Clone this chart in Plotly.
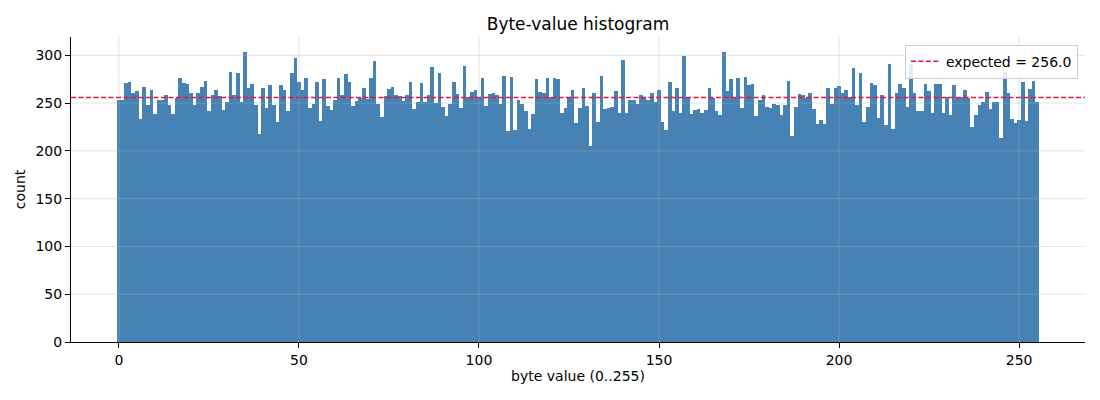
import numpy as np
import plotly.graph_objects as go

byte_values = list(range(256))

counts = [
    253, 253, 271, 272, 261, 263, 233, 267, 248, 264, 239, 253, 253, 258, 248, 239,
    255, 276, 271, 270, 261, 248, 261, 267, 273, 242, 258, 264, 257, 243, 251, 283,
    259, 282, 251, 304, 266, 270, 248, 218, 266, 245, 269, 248, 230, 269, 264, 242,
    282, 297, 272, 264, 276, 245, 249, 272, 231, 275, 247, 243, 253, 276, 258, 281,
    272, 247, 252, 255, 266, 254, 276, 294, 249, 236, 257, 265, 267, 259, 257, 252,
    259, 272, 244, 251, 271, 251, 258, 288, 250, 282, 246, 237, 249, 272, 260, 245,
    289, 256, 262, 264, 255, 276, 247, 260, 261, 259, 249, 278, 221, 277, 222, 253,
    249, 242, 223, 239, 275, 262, 261, 276, 256, 276, 275, 240, 245, 255, 264, 229,
    245, 266, 247, 205, 261, 230, 278, 244, 245, 246, 263, 240, 295, 240, 253, 253,
    249, 259, 256, 253, 261, 251, 264, 230, 222, 272, 242, 266, 240, 299, 256, 239,
    243, 244, 240, 243, 266, 255, 242, 238, 304, 263, 275, 256, 276, 245, 277, 269,
    270, 237, 253, 259, 246, 245, 249, 248, 238, 248, 273, 216, 246, 260, 259, 255,
    261, 244, 228, 232, 228, 266, 249, 266, 268, 261, 264, 256, 287, 248, 282, 230,
    246, 271, 269, 234, 259, 227, 291, 223, 261, 270, 266, 246, 291, 261, 242, 242,
    270, 263, 240, 270, 270, 240, 256, 238, 269, 256, 256, 264, 255, 225, 238, 248,
    251, 262, 244, 251, 251, 214, 283, 261, 233, 229, 232, 272, 231, 265, 273, 251,
]

expected = 256.0

x_ticks = [0, 50, 100, 150, 200, 250]
y_ticks = [0, 50, 100, 150, 200, 250, 300]

# matplotlib-like autoscale margins (5%)
x_lo, x_hi = -0.5, 255.5
pad = 0.05 * (x_hi - x_lo)
x_range = [x_lo - pad, x_hi + pad]
y_range = [0, max(counts) * 1.05]

grid_color = "rgba(176,176,176,0.35)"

fig = go.Figure()

fig.add_trace(
    go.Bar(
        x=byte_values,
        y=counts,
        width=1,
        marker=dict(color="#4682b4", line=dict(width=0)),
        showlegend=False,
        hoverinfo="x+y",
    )
)

fig.add_trace(
    go.Scatter(
        x=x_range,
        y=[expected, expected],
        mode="lines",
        line=dict(color="#e8143c", width=1.5, dash="5px,2.5px"),
        name=f"expected = {expected:.1f}",
    )
)

# grid drawn above the bars like the original
shapes = []
for t in x_ticks:
    shapes.append(dict(type="line", xref="x", yref="paper", x0=t, x1=t, y0=0, y1=1,
                       line=dict(color=grid_color, width=1), layer="above"))
for t in y_ticks[1:]:
    shapes.append(dict(type="line", xref="paper", yref="y", x0=0, x1=1, y0=t, y1=t,
                       line=dict(color=grid_color, width=1), layer="above"))

axis_common = dict(
    showgrid=False,
    zeroline=False,
    showline=True,
    linecolor="black",
    linewidth=1,
    ticks="outside",
    ticklen=5,
    tickcolor="black",
    tickfont=dict(size=14),
)

fig.update_layout(
    width=1100,
    height=400,
    margin=dict(l=71, r=15, t=37, b=58),
    paper_bgcolor="white",
    plot_bgcolor="white",
    font=dict(family="DejaVu Sans", size=14, color="black"),
    bargap=0,
    shapes=shapes,
    title=dict(
        text="Byte-value histogram",
        x=0.5,
        xref="paper",
        xanchor="center",
        y=0.94,
        yanchor="middle",
        font=dict(size=17),
    ),
    legend=dict(
        x=0.993,
        y=0.975,
        xanchor="right",
        yanchor="top",
        bgcolor="rgba(255,255,255,0.85)",
        bordercolor="#cccccc",
        borderwidth=1,
        font=dict(size=14),
        itemwidth=30,
    ),
    xaxis=dict(
        range=x_range,
        tickvals=x_ticks,
        title=dict(text="byte value (0..255)", standoff=4, font=dict(size=14)),
        **axis_common,
    ),
    yaxis=dict(
        range=y_range,
        tickvals=y_ticks,
        title=dict(text="count", standoff=6, font=dict(size=14)),
        **axis_common,
    ),
)

fig.write_html(
    "out.html",
    config={"displayModeBar": False},
    post_script="document.body.style.margin='0';",
)
